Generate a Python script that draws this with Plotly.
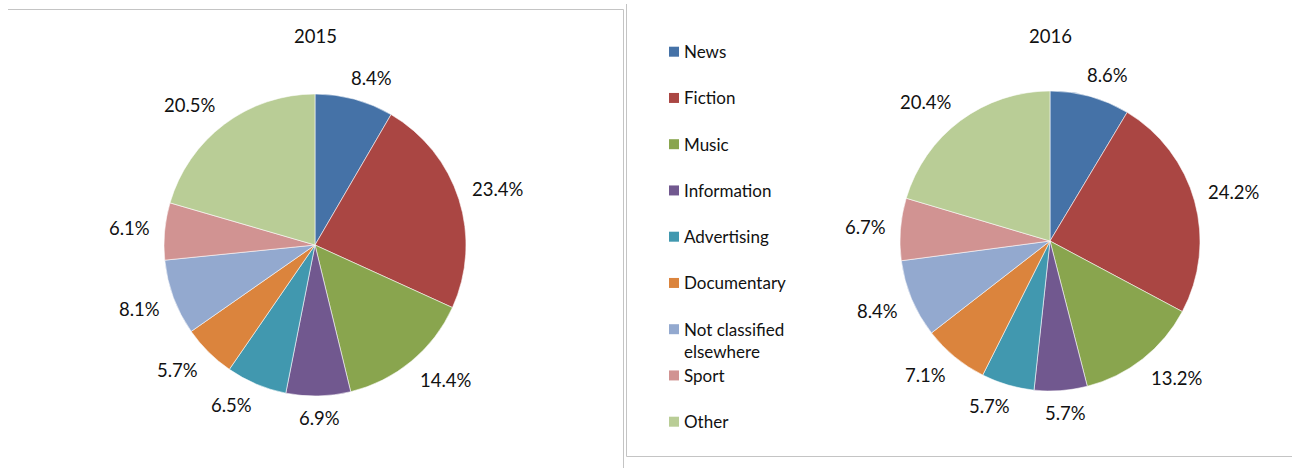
import math
import textwrap
import plotly.graph_objects as go

# Audiovisual content share by genre, two years side by side
categories = ["News", "Fiction", "Music", "Information", "Advertising",
              "Documentary", "Not classified elsewhere", "Sport", "Other"]
share_2015 = [8.4, 23.4, 14.4, 6.9, 6.5, 5.7, 8.1, 6.1, 20.5]
share_2016 = [8.6, 24.2, 13.2, 5.7, 5.7, 7.1, 8.4, 6.7, 20.4]
years = ["2015", "2016"]
colors = ["#4572A7", "#AA4643", "#89A54E", "#71588F", "#4198AF",
          "#DB843D", "#93A9CF", "#D19392", "#B9CD96"]

W, H = 1292, 468
FONT = "Lato"
TEXT_COLOR = "#111111"
BORDER = "#c4c4c4"

# pie centres and radius in pixels
pies = [
    dict(year=years[0], values=share_2015, cx=315, cy=245, r=151),
    dict(year=years[1], values=share_2016, cx=1050, cy=241, r=150),
]


def px(x):
    return x / W


def py(y):
    return 1 - y / H


fig = go.Figure()
annotations = []
shapes = []

for p in pies:
    cx, cy, r = p["cx"], p["cy"], p["r"]
    fig.add_trace(go.Pie(
        labels=categories,
        values=p["values"],
        sort=False,
        direction="clockwise",
        rotation=0,
        textinfo="none",
        hovertemplate="%{label}: %{value:.1f}%<extra>" + p["year"] + "</extra>",
        marker=dict(colors=colors, line=dict(color="rgba(255,255,255,0.7)", width=0.8)),
        domain=dict(x=[px(cx - r), px(cx + r)], y=[py(cy + r), py(cy - r)]),
        showlegend=False,
    ))

    # chart title
    annotations.append(dict(
        text=p["year"], x=px(cx), y=py(36), xref="paper", yref="paper",
        xanchor="center", yanchor="middle", showarrow=False,
        font=dict(family=FONT, size=18.5, color=TEXT_COLOR),
    ))

    # percentage labels placed just outside each slice's mid-angle
    total = sum(p["values"])
    cum = 0.0
    for v in p["values"]:
        theta = 2 * math.pi * (cum + v / 2) / total
        cum += v
        ux, uy = math.sin(theta), -math.cos(theta)
        txt = f"{v:.1f}%"
        hw = 5.0 * len(txt)
        hh = 7.0
        a = r + 15
        fx = max(-1.0, min(1.0, 2.5 * ux))
        fy = max(-1.0, min(1.0, 2.5 * uy))
        lx = cx + a * ux + hw * fx
        ly = cy + a * uy + hh * fy
        annotations.append(dict(
            text=txt, x=px(lx), y=py(ly), xref="paper", yref="paper",
            xanchor="center", yanchor="middle", showarrow=False,
            font=dict(family=FONT, size=18.5, color=TEXT_COLOR),
        ))

# legend in the right-hand panel
row0, step = 51.7, 46.25
for i, (name, col) in enumerate(zip(categories, colors)):
    ry = row0 + i * step
    shapes.append(dict(
        type="rect", xref="paper", yref="paper",
        x0=px(669), x1=px(679), y0=py(ry + 5), y1=py(ry - 5),
        fillcolor=col, line=dict(width=0),
    ))
    lines = textwrap.wrap(name, 15)
    ty = ry + (len(lines) - 1) * 11.5
    annotations.append(dict(
        text="<br>".join(lines), x=px(682), y=py(ty), xref="paper", yref="paper",
        xanchor="left", yanchor="middle", align="left", showarrow=False,
        font=dict(family=FONT, size=17, color=TEXT_COLOR),
    ))

# panel frames
frame = dict(color=BORDER, width=1)
shapes += [
    dict(type="line", xref="paper", yref="paper", x0=px(8), x1=px(623.5), y0=py(9.5), y1=py(9.5), line=frame),
    dict(type="line", xref="paper", yref="paper", x0=px(623.5), x1=px(623.5), y0=py(9.5), y1=py(468), line=frame),
    dict(type="line", xref="paper", yref="paper", x0=px(626.5), x1=px(626.5), y0=py(4), y1=py(456.5), line=frame),
    dict(type="line", xref="paper", yref="paper", x0=px(626.5), x1=px(1292), y0=py(456.5), y1=py(456.5), line=frame),
]

fig.update_layout(
    width=W, height=H,
    margin=dict(l=0, r=0, t=0, b=0),
    paper_bgcolor="white",
    plot_bgcolor="white",
    annotations=annotations,
    shapes=shapes,
    font=dict(family=FONT, color=TEXT_COLOR),
)

fig.write_html("out.html")
